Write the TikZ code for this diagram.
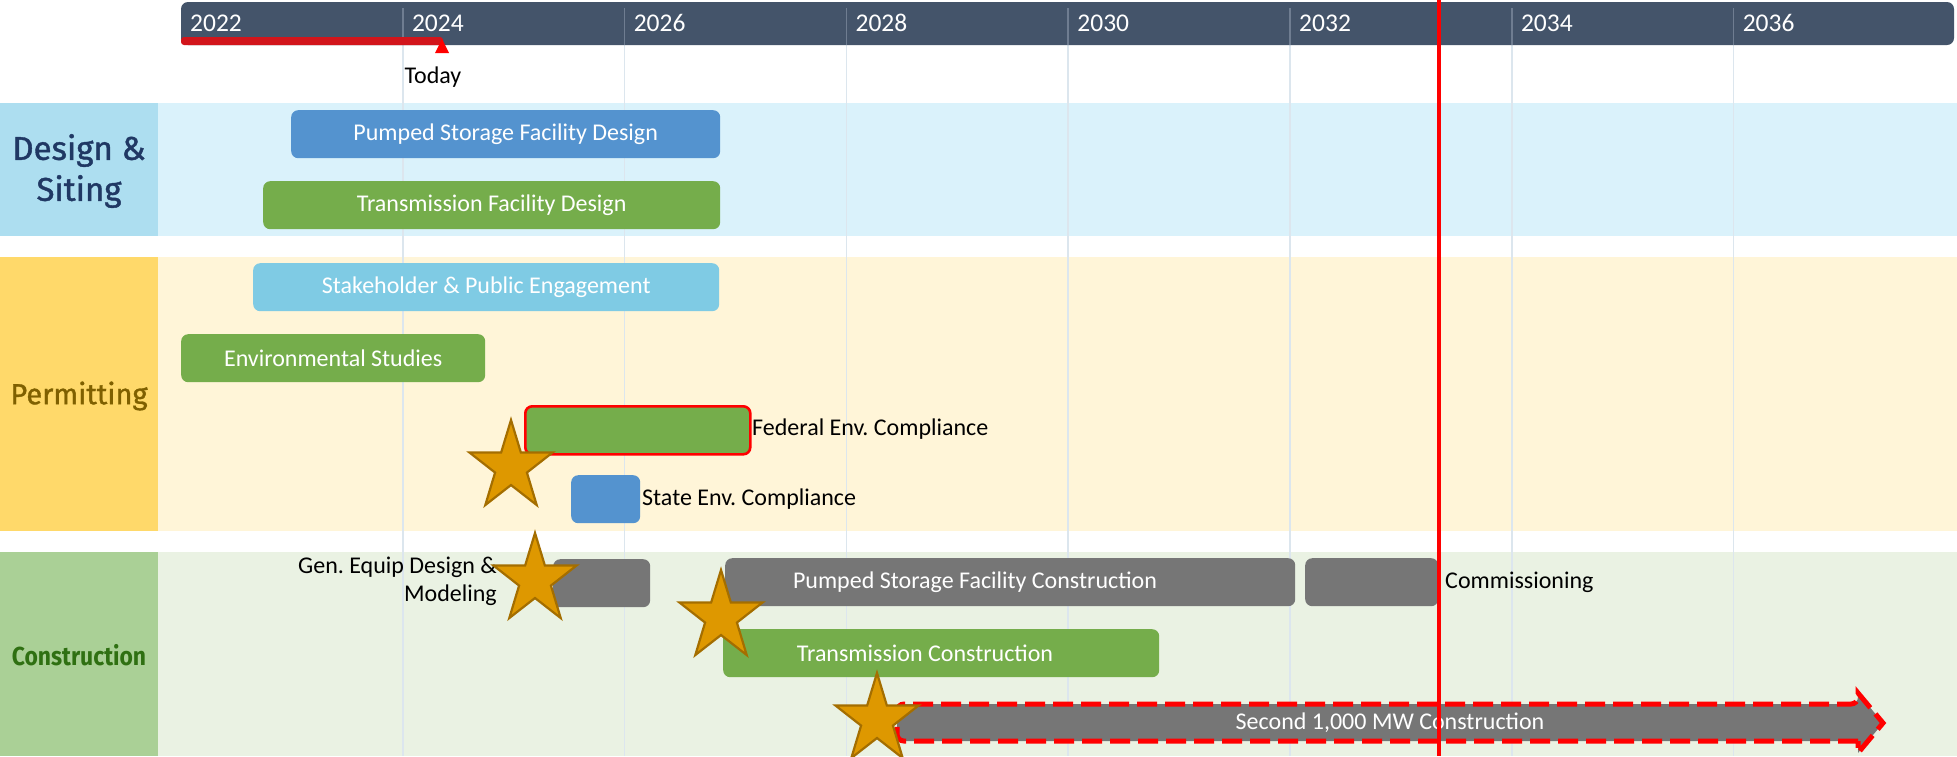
\documentclass[tikz,border=0pt]{standalone}
\usepackage{fontspec}
\usepackage{graphicx}
\setmainfont{Carlito}
\newfontfamily\lanefont[FakeBold=1.2]{Fira Sans}
\newfontfamily\lanefontb{Fira Sans}
\frenchspacing
\definecolor{headbg}{HTML}{44546A}
\definecolor{headsep}{HTML}{6F7D91}
\definecolor{gridc}{HTML}{DCE6EE}
\definecolor{todayred}{HTML}{D2151B}
\definecolor{designlab}{HTML}{ADDEF0}
\definecolor{designbg}{HTML}{DAF2FB}
\definecolor{permlab}{HTML}{FFD96A}
\definecolor{permbg}{HTML}{FFF5D8}
\definecolor{conlab}{HTML}{AAD096}
\definecolor{conbg}{HTML}{EAF2E3}
\definecolor{cblue}{HTML}{5493CF}
\definecolor{cgreen}{HTML}{75AD4B}
\definecolor{clblue}{HTML}{7FCBE4}
\definecolor{cgray}{HTML}{767676}
\definecolor{starfill}{HTML}{DE9800}
\definecolor{starline}{HTML}{A46E00}
\definecolor{designtxt}{HTML}{203864}
\definecolor{permtxt}{HTML}{7F6000}
\definecolor{contxt}{HTML}{2F7012}
\tikzset{
  bar/.style={rectangle, rounded corners=7pt, inner sep=0pt, anchor=north west,
    text=white, font=\fontsize{24}{28}\selectfont, minimum height=48pt},
  lbl/.style={inner sep=0pt, text=black, font=\fontsize{24}{28}\selectfont},
  yearlbl/.style={inner sep=0pt, anchor=west, text=white, font=\fontsize{25.5}{30}\selectfont},
  lanelab/.style={inner sep=0pt, align=center},
  starmark/.style={fill=starfill, draw=starline, line width=2.2pt, line join=miter},
  gridline/.style={draw=gridc, line width=1.6pt},
  headtick/.style={draw=headsep, line width=1.6pt}
}
\newcommand{\mystar}[2]{%
  \draw[starmark, shift={(#1,#2)}, xscale=0.93]
    (-90:47) \foreach \k in {1,...,9}{ -- ({-90+36*\k}:{mod(\k,2)==0 ? 47 : 18}) } -- cycle;}
\begin{document}
\begin{tikzpicture}[x=1pt, y=-1pt]
\useasboundingbox (0,0) rectangle (1957,756);
\fill[white] (0,0) rectangle (1957,756);
% lanes
\fill[designbg] (158,103) rectangle (1957,236);
\fill[designlab] (0,103) rectangle (158,236);
\fill[permbg] (158,257) rectangle (1957,531);
\fill[permlab] (0,257) rectangle (158,531);
\fill[conbg] (158,552) rectangle (1957,756);
\fill[conlab] (0,552) rectangle (158,756);
\node[lanelab, text=designtxt, font=\lanefont\fontsize{33}{41}\selectfont] (ldesign) at (79,171) {Design \&\\Siting};
\node[lanelab, text=permtxt, font=\lanefont\fontsize{29}{34}\selectfont] (lperm) at (79,396) {Permitting};
\node[lanelab, text=contxt, font=\lanefontb\bfseries\fontsize{26}{30}\selectfont] (lcon) at (79,655) {\scalebox{0.88}[1]{Construction}};
% grid lines
\foreach \yr in {2,4,...,14}{
  \draw[gridline] ({181+110.9*\yr},45) -- ({181+110.9*\yr},756);
}
% header
\fill[headbg, rounded corners=7pt] (181,2) rectangle (1954,45);
\foreach \yr in {2,4,...,14}{
  \draw[headtick] ({181+110.9*\yr},8) -- ({181+110.9*\yr},45);
}
\foreach \yr/\lab in {0/2022,2/2024,4/2026,6/2028,8/2030,10/2032,12/2034,14/2036}{
  \node[yearlbl] (y\lab) at ({190+110.9*\yr},23) {\lab};
}
% today marker
\fill[todayred, rounded corners=3pt] (181,37) rectangle (443,45);
\fill[red] (435,53) -- (442,39) -- (449,53) -- cycle;
\node[lbl] (today) at (433,77) {Today};
% design bars
\node[bar, fill=cblue, minimum width=429pt] (psd) at (291,110) {Pumped Storage Facility Design};
\node[bar, fill=cgreen, minimum width=457pt] (tfd) at (263,181) {Transmission Facility Design};
% permitting bars
\node[bar, fill=clblue, minimum width=466pt] (spe) at (253,263) {Stakeholder \& Public Engagement};
\node[bar, fill=cgreen, minimum width=304pt] (env) at (181,334) {Environmental Studies};
\node[bar, fill=cgreen, draw=red, line width=2.6pt, minimum width=225pt] (fed) at (524,405) {};
\node[lbl, anchor=west] (fedl) at (752,429) {Federal Env. Compliance};
\node[bar, fill=cblue, minimum width=69pt] (state) at (571,475) {};
\node[lbl, anchor=west] (statel) at (642,499) {State Env. Compliance};
% construction bars
\node[bar, fill=cgray, minimum width=97pt] (gen) at (553,559) {};
\node[lbl, anchor=east, align=right] (genl) at (497,581) {Gen. Equip Design \&\\Modeling};
\node[bar, fill=cgray, minimum width=570pt] (psc) at (725,558) {};
\node[lbl, text=white] (pscl) at (975,582) {Pumped Storage Facility Construction};
\node[bar, fill=cgray, minimum width=133pt] (comm) at (1305,558) {};
\node[lbl, anchor=west] (comml) at (1445,582) {Commissioning};
\node[bar, fill=cgreen, minimum width=436pt] (tc) at (723,629) {};
\node[lbl, text=white] (tcl) at (925,653) {Transmission Construction};
% second 1000 MW arrow
\coordinate (arrtip) at (1883,723);
\fill[cgray, rounded corners=7pt] (1858,741) -- (897,741) -- (897,704) -- (1858,704) [sharp corners] -- (1858,693) -- (arrtip) -- (1858,753) -- cycle;
\draw[red, line width=5pt, dash pattern=on 20pt off 8pt, rounded corners=7pt] (1858,741) -- (897,741) -- (897,704) -- (1858,704) [sharp corners] -- (1858,693) -- (arrtip) -- (1858,753) -- cycle;
\node[lbl, text=white] (arrl) at (1390,723) {Second 1,000 MW Construction};
% milestones
\mystar{511}{467}
\mystar{535}{580}
\mystar{721}{617}
\mystar{877}{720}
% status line
\draw[red, line width=4pt] (1439,0) -- (1439,756);
\end{tikzpicture}
\end{document}
